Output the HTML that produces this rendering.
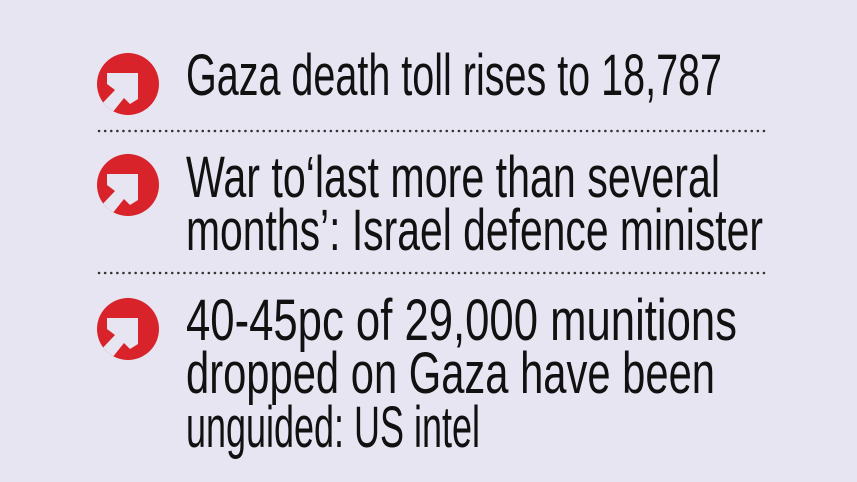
<!DOCTYPE html>
<html><head><style>
html,body{margin:0;padding:0;background:#e7e5f2;}
svg{display:block}
text{font-family:"Liberation Sans",sans-serif;font-size:58px;fill:#111;}
</style></head><body>
<svg width="857" height="482" viewBox="0 0 857 482">
<defs>
<clipPath id="c"><circle cx="0" cy="0" r="31"/></clipPath>
<g id="ic">
<circle cx="0" cy="0" r="31" fill="#d9232b"/>
<polygon clip-path="url(#c)" fill="#e7e5f2" points="-21,-11 10,-11 10,15 2,20 -4,14 -20,34 -30,24 -13,6 -21,0"/>
</g>
</defs>
<use href="#ic" x="128" y="84"/>
<use href="#ic" x="128" y="185"/>
<use href="#ic" x="128" y="329"/>
<text x="186" y="95" textLength="536" lengthAdjust="spacingAndGlyphs">Gaza death toll rises to 18,787</text>
<line x1="99" y1="131" x2="768" y2="131" stroke="#333" stroke-width="2.5" stroke-dasharray="0.1 6" stroke-linecap="round"/>
<text x="186" y="197" textLength="534" lengthAdjust="spacingAndGlyphs">War to‘last more than several</text>
<text x="186" y="250" textLength="577" lengthAdjust="spacingAndGlyphs">months’: Israel defence minister</text>
<line x1="99" y1="273" x2="768" y2="273" stroke="#333" stroke-width="2.5" stroke-dasharray="0.1 6" stroke-linecap="round"/>
<text x="186" y="340" textLength="551" lengthAdjust="spacingAndGlyphs">40-45pc of 29,000 munitions</text>
<text x="186" y="393" textLength="529" lengthAdjust="spacingAndGlyphs">dropped on Gaza have been</text>
<text x="186" y="447" textLength="294" lengthAdjust="spacingAndGlyphs">unguided: US intel</text>
</svg>
</body></html>
